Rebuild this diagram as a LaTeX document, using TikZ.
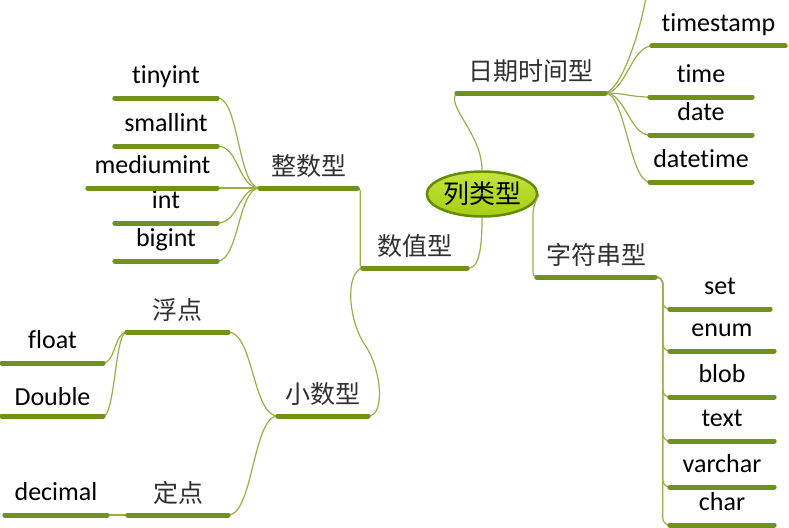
\documentclass[tikz,border=0pt]{standalone}
\usepackage{fontspec}
\setmainfont{Carlito}[Ligatures=CommonOff]
\newfontfamily\cjk{Noto Sans CJK SC}
\usepackage{xcolor}
\usepackage{tikz}
\usetikzlibrary{
    calc,
    shapes.geometric
}
\definecolor{branchGreen}{RGB}{112,146,26}
\definecolor{linkGreen}{RGB}{160,172,72}
\definecolor{rootEdge}{RGB}{100,140,0}
\definecolor{rootLight}{RGB}{196,228,60}
\definecolor{rootMid}{RGB}{160,202,12}
\definecolor{labelGray}{RGB}{48,48,48}
\tikzset{
    topic/.style={
        anchor=south,
        inner xsep=0pt,
        inner ysep=14pt,
        text depth=0pt,
        font=\fontsize{26}{30}\selectfont
    }
}
\tikzset{
    ctopic/.style={
        topic,
        inner ysep=12pt,
        text=labelGray,
        font=\cjk\fontsize{25}{30}\selectfont
    }
}
\tikzset{
    root/.style={
        ellipse,
        draw=rootEdge,
        line width=2.5pt,
        top color=rootLight,
        middle color=rootMid,
        bottom color=rootMid!85!rootLight,
        minimum width=95pt,
        minimum height=45pt,
        inner sep=0pt,
        font=\cjk\fontsize{26}{30}\selectfont
    }
}
\tikzset{
    uline/.style={
        draw=branchGreen,
        line width=5pt,
        line cap=round
    }
}
\tikzset{
    link/.style={
        draw=linkGreen,
        line width=1.2pt
    }
}

\begin{document}
\begin{tikzpicture}[
    x=1pt,
    y=-1pt
]
\useasboundingbox (0,0) rectangle (789,527);

% ------------------------------------------------------------
% Root and first level
% ------------------------------------------------------------

\node[root] (col) at (482,194) {列类型};
\node[ctopic, minimum width=148pt] (dt)   at (531,93)  {日期时间型};
\node[ctopic, minimum width=104pt] (num)  at (415,268) {数值型};
\node[ctopic, minimum width=118pt] (str)  at (596,277) {字符串型};

% ------------------------------------------------------------
% Date and time types
% ------------------------------------------------------------

\node[topic, minimum width=133pt] (ts)  at (718.5,46) {timestamp};
\node[topic, minimum width=102pt] (tm)  at (701,97)   {time};
\node[topic, minimum width=102pt] (dte) at (701,135)  {date};
\node[topic, minimum width=102pt] (dtt) at (701,182)  {datetime};
\coordinate (dtup) at (646,-3);

% ------------------------------------------------------------
% Numeric types
% ------------------------------------------------------------

\node[ctopic, minimum width=97pt] (intg) at (308.5,188) {整数型};
\node[topic, minimum width=102pt] (tiny)   at (166,98)    {tinyint};
\node[topic, minimum width=102pt] (small)  at (166,146)   {smallint};
\node[topic, minimum width=129pt] (medium) at (152.5,188) {mediumint};
\node[topic, minimum width=102pt] (iint)   at (166,223)   {int};
\node[topic, minimum width=102pt] (big)    at (166,261)   {bigint};

\node[ctopic, minimum width=90pt]  (dec) at (323,416)   {小数型};
\node[ctopic, minimum width=101pt] (flp) at (177.5,332) {浮点};
\node[ctopic, minimum width=100pt] (fxp) at (178,515)   {定点};
\node[topic, minimum width=101pt] (flt) at (52.5,363) {float};
\node[topic, minimum width=101pt, inner ysep=10pt] (dbl) at (52.5,416) {Double};
\node[topic, minimum width=102pt] (dcm) at (56,515)   {decimal};

% ------------------------------------------------------------
% String types
% ------------------------------------------------------------

\node[topic, minimum width=100pt] (set) at (720,309) {set};
\node[topic, minimum width=104pt] (enm) at (722,351) {enum};
\node[topic, minimum width=104pt] (blb) at (722,397) {blob};
\node[topic, minimum width=104pt] (txt) at (722,441) {text};
\node[topic, minimum width=104pt] (vch) at (722,487) {varchar};
\node[topic, minimum width=104pt] (chr) at (722,525) {char};

% ------------------------------------------------------------
% Connectors
% ------------------------------------------------------------

\draw[link] (col.north) .. controls +(0,-37) and +(-12,12) .. (dt.south west);
\draw[link] (col.south) .. controls +(0,45) and +(8,0) .. (num.south east);
\draw[link] (col.east) .. controls +(3,0) and +(0,-15) .. (533,215)
    -- (533,270) .. controls +(0,5) and +(-3,0) .. (str.south west);

\foreach \c in {ts,tm,dte,dtt} {
    \draw[link] (dt.south east) .. controls +(20,0) and +(-20,0) .. (\c.south west);
}
\draw[link] (dt.south east) .. controls +(18,-5) and +(-5,30) .. (dtup);

\draw[link, rounded corners=3pt] (num.south west) -| ([xshift=3pt]intg.south east) -- (intg.south east);
\foreach \c in {tiny,small,medium,iint,big} {
    \draw[link] (intg.south west) .. controls +(-22,0) and +(22,0) .. (\c.south east);
}

\draw[link] (num.south west) .. controls +(-18,4) and +(-17,-25) .. (365,345)
    .. controls +(17,25) and +(17,0) .. (dec.south east);
\foreach \c in {flp,fxp} {
    \draw[link] (dec.south west) .. controls +(-25,0) and +(25,0) .. (\c.south east);
}
\foreach \c in {flt,dbl} {
    \draw[link] (flp.south west) .. controls +(-12,0) and +(12,0) .. (\c.south east);
}
\draw[link] (fxp.south west) -- (dcm.south east);

\foreach \c in {set,enm,blb,txt,vch,chr} {
    \draw[link, rounded corners=7pt] (str.south east) -| ([xshift=-7pt]\c.south west) -- (\c.south west);
}

% Branch underlines
\foreach \n in {dt,num,str,ts,tm,dte,dtt,intg,tiny,small,medium,iint,big,
                dec,flp,fxp,flt,dbl,dcm,set,enm,blb,txt,vch,chr} {
    \draw[uline] (\n.south west) -- (\n.south east);
}

\end{tikzpicture}
\end{document}
